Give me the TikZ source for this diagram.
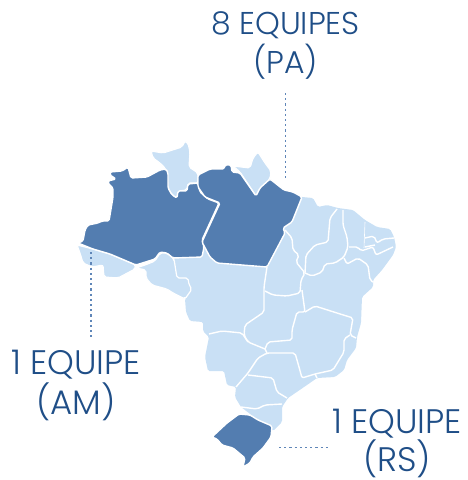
\documentclass[tikz,border=0pt]{standalone}
\usepackage{fontspec}
\setmainfont[UprightFont=* Light]{Poppins}
\definecolor{darkst}{HTML}{537DB0}
\definecolor{lightst}{HTML}{C9E0F5}
\definecolor{txtc}{HTML}{1F4E87}
\definecolor{dotc}{HTML}{5F86B8}
\tikzset{
  stline/.style={draw=white,line width=1.4pt,line join=round,rounded corners=2pt},
  lightfill/.style={fill=lightst,draw=white,line width=1.2pt,line join=round,rounded corners=2pt},
  darkfill/.style={fill=darkst,draw=white,line width=1.4pt,line join=round,rounded corners=1.5pt},
  lbl/.style={text=txtc,font=\fontsize{31.5}{39}\selectfont,align=center,inner sep=0pt},
  lblb/.style={lbl,font=\fontsize{34}{40}\selectfont},
  dots/.style={draw=dotc,line width=1.1pt,dash pattern=on 2.2pt off 3pt}
}
\begin{document}
\begin{tikzpicture}[x=1pt,y=-1pt]
\useasboundingbox (0,0) rectangle (468,480);
% main light body
\fill[lightst,rounded corners=1.5pt] (198,183) -- (302,197) -- (313,198) -- (318,207) -- (327,205) -- (338,208) -- (353,210) -- (365,220) -- (377,227) -- (390,229) -- (394,237) -- (396,247) -- (393,255) -- (382,270) -- (373,280) -- (373,287) -- (362,297) -- (361,323) -- (357,337) -- (356,348) -- (347,360) -- (344,370) -- (335,377) -- (317,378) -- (307,385) -- (288,398) -- (282,407) -- (282,422) -- (273,431) -- (258,420) -- (241,407) -- (235,397) -- (236,387) -- (227,385) -- (224,371) -- (208,371) -- (205,357) -- (209,337) -- (203,331) -- (203,322) -- (190,321) -- (186,312) -- (185,299) -- (192,289) -- (189,285) -- (188,278) -- (177,278) -- (174,259) -- cycle;
% Roraima
\path[lightfill] (151,151) -- (163,153) -- (182,147) -- (185,141) -- (188,143) -- (190,152) -- (189,167) -- (198,173) -- (198,183) -- (188,183) -- (187,190) -- (178,191) -- (177,198) -- (172,195) -- (168,188) -- (167,172) -- (165,168) -- (160,163) -- (153,158) -- cycle;
% Acre
\path[lightfill] (77,245) -- (80,253) -- (83,263) -- (92,267) -- (103,265) -- (104,277) -- (118,278) -- (135,269) -- (136,265) -- (110,254) -- (93,249) -- cycle;
% Rondonia
\path[lightfill] (136,268) -- (145,265) -- (155,261) -- (160,253) -- (167,253) -- (174,259) -- (177,278) -- (188,278) -- (189,285) -- (192,289) -- (185,299) -- (173,293) -- (167,289) -- (152,285) -- (146,278) -- (146,270) -- cycle;
% Amapa
\path[lightfill] (233,166) -- (250,168) -- (253,158) -- (258,152) -- (265,163) -- (271,171) -- (270,179) -- (261,188) -- (256,196) -- (240,172) -- cycle;
% state borders
\draw[stline] (267,267) -- (264,287) -- (264,312) -- (245,325) -- (244,335) -- (248,342) -- (265,349);
\draw[stline] (209,334) -- (222,331) -- (242,333) -- (248,342);
\draw[stline] (265,349) -- (268,342) -- (292,340) -- (292,330) -- (297,312) -- (305,312) -- (302,290);
\draw[stline] (285,230) -- (292,238) -- (293,250) -- (299,255) -- (296,262) -- (305,273) -- (301,280) -- (300,293) -- (287,296) -- (273,295) -- (265,291);
\draw[stline] (337,209) -- (330,218) -- (328,242) -- (315,245) -- (306,255) -- (305,273);
\draw[stline] (343,210) -- (343,225) -- (347,237) -- (348,247) -- (344,257) -- (335,263) -- (325,264) -- (322,272) -- (312,276) -- (305,273);
\draw[stline] (344,258) -- (347,264) -- (358,258) -- (368,265) -- (370,280) -- (373,282);
\draw[stline] (349,247) -- (358,247) -- (361,251) -- (373,247) -- (376,255) -- (393,247);
\draw[stline] (365,238) -- (374,236) -- (377,243) -- (383,239) -- (394,238);
\draw[stline] (365,247) -- (375,245);
\draw[white,line width=.6pt] (365,222) -- (364,248);
\draw[stline] (305,312) -- (315,306) -- (337,313) -- (353,318) -- (350,335) -- (356,338);
\draw[stline] (350,335) -- (344,339) -- (344,352) -- (333,370) -- (315,374) -- (302,378) -- (299,367) -- (295,353) -- (267,353) -- (258,358) -- (248,373) -- (236,387);
\draw[stline] (248,375) -- (273,378) -- (277,392) -- (287,398);
\draw[stline] (241,407) -- (257,409) -- (265,405) -- (282,404);
\draw[stline] (315,374) -- (317,378);
\draw[stline] (265,349) -- (267,353);
% dark states
\path[darkfill] (78,243) -- (83,241) -- (85,230) -- (88,225) -- (98,223) -- (102,221) -- (109,221) -- (113,197) -- (113,188) -- (108,183) -- (108,181) -- (116,179) -- (110,175) -- (110,172) -- (122,171) -- (128,167) -- (131,178) -- (147,177) -- (160,170) -- (166,169) -- (168,173) -- (168,188) -- (172,195) -- (177,198) -- (178,191) -- (187,191) -- (188,184) -- (198,183) -- (200,192) -- (208,199) -- (219,203) -- (202,240) -- (204,247) -- (202,257) -- (173,258) -- (167,253) -- (160,252) -- (155,259) -- (136,265) -- (110,254) -- (93,249) -- cycle;
\path[darkfill] (198,175) -- (210,169) -- (224,169) -- (225,165) -- (231,165) -- (232,172) -- (240,173) -- (256,196) -- (260,188) -- (270,179) -- (284,190) -- (293,192) -- (302,197) -- (292,222) -- (283,228) -- (285,233) -- (267,267) -- (217,263) -- (210,257) -- (202,242) -- (220,203) -- (205,197) -- (198,187) -- cycle;
\path[darkfill] (212,437) -- (227,423) -- (239,414) -- (250,415) -- (258,420) -- (272,426) -- (271,437) -- (263,448) -- (253,457) -- (250,463) -- (243,467) -- (245,458) -- (233,448) -- (222,445) -- (217,439) -- cycle;
% labels
\node[lbl] (pa) at (285.5,45.5) {8 EQUIPES\\(PA)};
\node[lblb] (am) at (76,385) {1 EQUIPE\\(AM)};
\node[lblb,font=\fontsize{34}{35.5}\selectfont] (rs) at (397,443.5) {1 EQUIPE\\(RS)};
% leader lines
\coordinate (paS) at (285.5,93);
\coordinate (paE) at (285.5,178);
\coordinate (amS) at (91,252);
\coordinate (amE) at (91,340);
\coordinate (rsS) at (279,447.5);
\coordinate (rsE) at (328,447.5);
\draw[dots] (paS) -- (paE);
\draw[dots] (amS) -- (amE);
\draw[dots] (rsS) -- (rsE);
\end{tikzpicture}
\end{document}
